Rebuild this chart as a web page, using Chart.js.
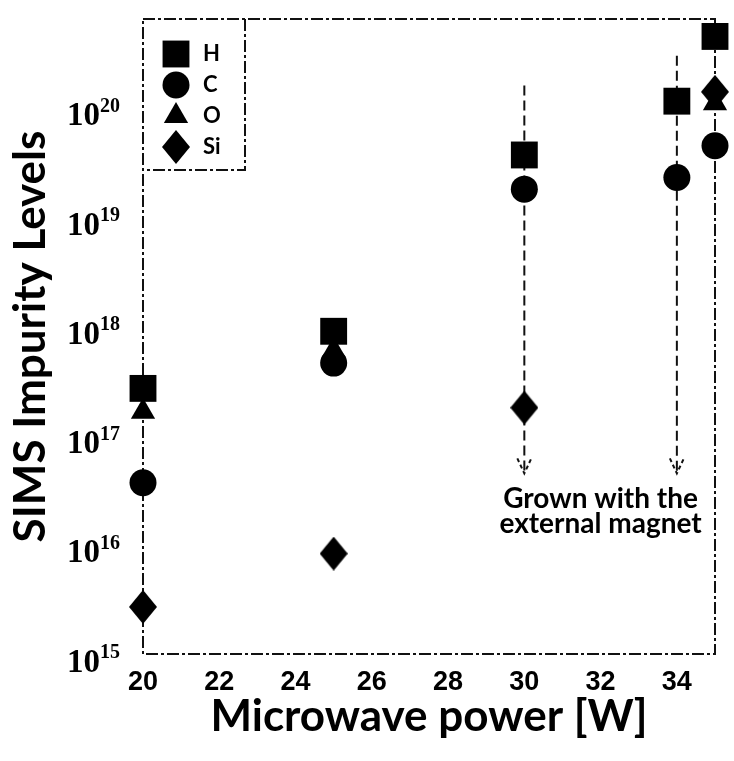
<!DOCTYPE html>
<html>
<head>
<meta charset="utf-8">
<title>SIMS impurity levels vs microwave power</title>
<script src="https://cdn.jsdelivr.net/npm/chart.js"></script>
<style>
  html, body { margin: 0; padding: 0; background: #fff; }
  #chart { display: block; }
</style>
</head>
<body>
<canvas id="chart" width="734" height="761"></canvas>
<script>
// microwave power of each sample [W]
const powers = [20, 25, 30, 34, 35];
// SIMS levels (null = not visible)
const hLevels  = [2.7e17, 9.0e17, 3.7e19, 1.15e20, 4.5e20];
const cLevels  = [3.7e16, 4.6e17, 1.8e19, 2.3e19, 4.5e19];
const oLevels  = [1.65e17, 6.0e17, null, null, 1.1e20];
const siLevels = [2.7e15, 8.3e15, 1.8e17, null, 1.4e20];
const elements = ['H', 'C', 'O', 'Si'];
const yExponents = [15, 16, 17, 18, 19, 20];
const xTickValues = [20, 22, 24, 26, 28, 30, 32, 34];
// samples grown with the external magnet
const magnetPowers = [30, 34];
const magnetLineTop = [1.6e20, 3.0e20];
const magnetArrowTip = 4.5e16;
const noteLines = ['Grown with the', 'external magnet'];

function diamond(w, h) {
  const c = document.createElement('canvas');
  c.width = w;
  c.height = h;
  const g = c.getContext('2d');
  g.fillStyle = '#000';
  g.beginPath();
  g.moveTo(w / 2, 0);
  g.lineTo(w, h / 2);
  g.lineTo(w / 2, h);
  g.lineTo(0, h / 2);
  g.closePath();
  g.fill();
  return c;
}

const markerStyles = ['rect', 'circle', 'triangle', diamond(28, 34)];
const markerRadius = [19, 13.5, 14, 15];
const levelSets = [hLevels, cLevels, oLevels, siLevels];

const datasets = elements.map((name, i) => ({
  label: name,
  data: powers.map((p, k) => ({ x: p, y: levelSets[i][k] })).filter(pt => pt.y !== null),
  pointStyle: markerStyles[i],
  pointRadius: markerRadius[i],
  pointHoverRadius: markerRadius[i],
  backgroundColor: '#000',
  borderColor: '#000',
  borderWidth: 0,
  showLine: false,
  clip: false
}));

// dashed frame, legend box, magnet guide lines with arrows
const guides = {
  id: 'guides',
  beforeDatasetsDraw(chart) {
    const { ctx, chartArea: a, scales: { x, y } } = chart;
    ctx.save();
    ctx.strokeStyle = '#111';
    ctx.lineWidth = 2;
    ctx.setLineDash([12, 3, 3, 3]);
    ctx.strokeRect(a.left, a.top, a.right - a.left, a.bottom - a.top);
    ctx.beginPath();
    ctx.moveTo(a.left + 102, a.top);
    ctx.lineTo(a.left + 102, a.top + 151);
    ctx.lineTo(a.left, a.top + 151);
    ctx.stroke();
    magnetPowers.forEach((p, i) => {
      const px = x.getPixelForValue(p);
      const top = y.getPixelForValue(magnetLineTop[i]);
      const tip = y.getPixelForValue(magnetArrowTip);
      ctx.setLineDash([10, 5]);
      ctx.beginPath();
      ctx.moveTo(px, top);
      ctx.lineTo(px, tip);
      ctx.stroke();
      ctx.setLineDash([4, 3]);
      ctx.beginPath();
      ctx.moveTo(px - 7, tip - 15);
      ctx.lineTo(px, tip);
      ctx.lineTo(px + 7, tip - 15);
      ctx.stroke();
    });
    ctx.restore();
  },
  afterDatasetsDraw(chart) {
    const { ctx, chartArea: a, scales: { x, y } } = chart;
    ctx.save();
    // legend inside the frame
    chart.data.datasets.forEach((ds, i) => {
      const ly = a.top + 35 + i * 31;
      ctx.fillStyle = '#000';
      Chart.helpers.drawPoint(ctx, { pointStyle: ds.pointStyle, radius: ds.pointRadius, borderWidth: 0 }, a.left + 33, ly);
      ctx.font = 'bold 22px Lato';
      ctx.textAlign = 'left';
      ctx.textBaseline = 'middle';
      ctx.fillText(ds.label, a.left + 60, ly);
    });
    // annotation
    ctx.font = 'bold 28px Lato';
    ctx.textAlign = 'center';
    ctx.textBaseline = 'middle';
    const cx = (x.getPixelForValue(magnetPowers[0]) + x.getPixelForValue(magnetPowers[1])) / 2;
    const ty = y.getPixelForValue(magnetArrowTip);
    noteLines.forEach((t, i) => ctx.fillText(t, cx, ty + 26 + i * 25));
    // y tick labels as 10 with superscript
    yExponents.forEach(e => {
      const py = y.getPixelForValue(Math.pow(10, e));
      ctx.font = 'bold 33px "Liberation Serif"';
      ctx.textAlign = 'right';
      ctx.fillText('10', 100, py + 9);
      ctx.font = 'bold 20px "Liberation Serif"';
      ctx.textAlign = 'left';
      ctx.fillText(String(e), 100, py - 1);
    });
    ctx.restore();
  }
};

new Chart(document.getElementById('chart'), {
  type: 'scatter',
  data: { datasets: datasets },
  options: {
    responsive: false,
    animation: false,
    devicePixelRatio: 1,
    layout: { padding: { top: 9, right: 18, left: 0, bottom: 0 } },
    plugins: { legend: { display: false }, tooltip: { enabled: false } },
    scales: {
      x: {
        type: 'linear',
        min: 20,
        max: 35,
        afterBuildTicks: s => { s.ticks = xTickValues.map(v => ({ value: v })); },
        afterFit: s => { s.height = 107; },
        grid: { display: false, drawTicks: false },
        border: { display: false },
        ticks: {
          padding: 12,
          color: '#000',
          font: { family: '"Liberation Sans Narrow", "Liberation Sans"', weight: 'bold', size: 27 }
        },
        title: {
          display: true,
          text: 'Microwave power [W]',
          color: '#000',
          font: { family: 'Lato', weight: 'bold', size: 44 },
          padding: { top: 0, bottom: 18 }
        }
      },
      y: {
        type: 'logarithmic',
        min: 1e15,
        max: 6.5e20,
        afterBuildTicks: s => { s.ticks = yExponents.map(e => ({ value: Math.pow(10, e) })); },
        afterFit: s => { s.width = 143; },
        grid: { display: false, drawTicks: false },
        border: { display: false },
        ticks: { display: false },
        title: {
          display: true,
          text: 'SIMS Impurity Levels',
          color: '#000',
          font: { family: 'Lato', weight: 'bold', size: 44 },
          padding: { top: 4, bottom: 0 }
        }
      }
    }
  },
  plugins: [guides]
});
</script>
</body>
</html>
